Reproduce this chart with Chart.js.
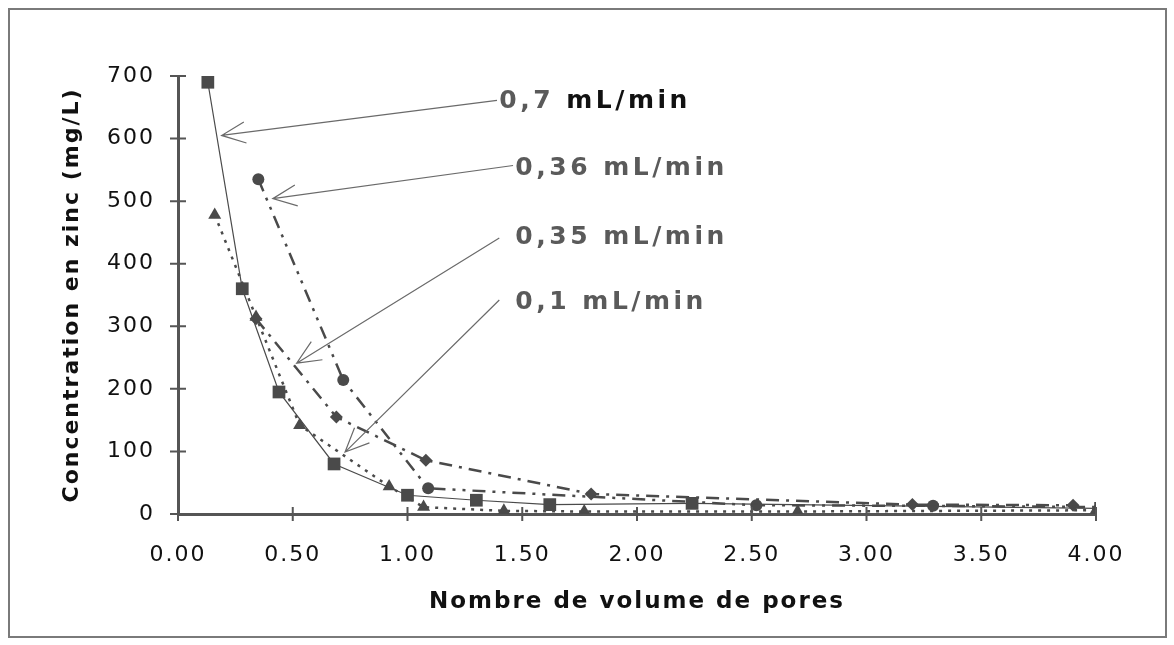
<!DOCTYPE html>
<html>
<head>
<meta charset="utf-8">
<script src="https://cdn.jsdelivr.net/npm/chart.js@4.4.0/dist/chart.umd.min.js"></script>
<style>
  html, body { margin: 0; padding: 0; background: #fff; }
  #wrap { position: relative; width: 1174px; height: 645px; }
  #frame { position: absolute; left: 8px; top: 8px; width: 1155px; height: 626px; border: 2px solid #7a7a7a; pointer-events: none; }
</style>
</head>
<body>
<div id="wrap">
  <canvas id="chart" width="1174" height="645"></canvas>
  <div id="frame"></div>
</div>
<script>
// --- data ---
const seriesNames = ["0,7 mL/min", "0,36 mL/min", "0,35 mL/min", "0,1 mL/min"];

const pores07 = [0.13, 0.28, 0.44, 0.68, 1.00, 1.30, 1.62, 2.24, 4.02];
const zinc07  = [690, 360, 195, 80, 30, 22, 15, 17, 9];

const pores036 = [0.35, 0.72, 1.09, 2.52, 3.29, 4.02];
const zinc036  = [535, 214, 41, 14, 13, 11];

const pores035 = [0.34, 0.69, 1.08, 1.80, 3.20, 3.90];
const zinc035  = [312, 155, 86, 32, 15, 14];

const pores01 = [0.16, 0.34, 0.53, 0.92, 1.07, 1.42, 1.77, 2.70, 4.00];
const zinc01  = [478, 315, 142, 44, 11, 5, 4, 4, 6];

const yTicks = [0, 100, 200, 300, 400, 500, 600, 700];
const xTicks = [0, 0.5, 1, 1.5, 2, 2.5, 3, 3.5, 4];

// callouts: label anchor and arrow tip, in data units
const callouts = [
  { text: "0,7", unit: "mL/min", lx: 1.40, ly: 659, sx: 1.39, sy: 661, tx: 0.19, ty: 605 },
  { text: "0,36", unit: "mL/min", lx: 1.47, ly: 552, sx: 1.46, sy: 557, tx: 0.413, ty: 504 },
  { text: "0,35", unit: "mL/min", lx: 1.47, ly: 442, sx: 1.40, sy: 441, tx: 0.517, ty: 241 },
  { text: "0,1", unit: "mL/min", lx: 1.47, ly: 338, sx: 1.40, sy: 342, tx: 0.728, ty: 99 }
];

const toPoints = (xs, ys) => xs.map((v, i) => ({ x: v, y: ys[i] }));

const ink = "#4a4a4a";
const axisColor = "#555";
const font = "'DejaVu Sans', Verdana, sans-serif";

const decor = {
  id: "decor",
  beforeDraw(chart) {
    chart.ctx.letterSpacing = "2px";
  },
  afterDraw(chart) {
    const { ctx, scales: { x, y } } = chart;
    ctx.save();
    // tick marks crossing the axes
    ctx.strokeStyle = axisColor;
    ctx.lineWidth = 2;
    ctx.beginPath();
    xTicks.forEach(v => {
      const px = x.getPixelForValue(v);
      ctx.moveTo(px, y.bottom - 7);
      ctx.lineTo(px, y.bottom + 7);
    });
    yTicks.forEach(v => {
      const py = y.getPixelForValue(v);
      ctx.moveTo(x.left - 8, py);
      ctx.lineTo(x.left + 8, py);
    });
    ctx.stroke();

    // callout arrows
    ctx.strokeStyle = "#6a6a6a";
    ctx.lineWidth = 1.2;
    callouts.forEach(c => {
      const x0 = x.getPixelForValue(c.sx), y0 = y.getPixelForValue(c.sy);
      const x1 = x.getPixelForValue(c.tx), y1 = y.getPixelForValue(c.ty);
      const a = Math.atan2(y0 - y1, x0 - x1);
      const len = 26, spread = 0.42;
      ctx.beginPath();
      ctx.moveTo(x0, y0);
      ctx.lineTo(x1, y1);
      ctx.moveTo(x1 + len * Math.cos(a - spread), y1 + len * Math.sin(a - spread));
      ctx.lineTo(x1, y1);
      ctx.lineTo(x1 + len * Math.cos(a + spread), y1 + len * Math.sin(a + spread));
      ctx.stroke();
    });

    // callout labels
    ctx.font = "bold 25px " + font;
    ctx.letterSpacing = "3.5px";
    ctx.textBaseline = "middle";
    ctx.textAlign = "left";
    callouts.forEach((c, i) => {
      const px = x.getPixelForValue(c.lx), py = y.getPixelForValue(c.ly);
      ctx.fillStyle = "#5a5a5a";
      const head = c.text + " ";
      ctx.fillText(head, px, py);
      ctx.fillStyle = i === 0 ? "#111" : "#5a5a5a";
      ctx.fillText(c.unit, px + ctx.measureText(head).width, py);
    });
    ctx.restore();
  }
};

const ctx = document.getElementById("chart").getContext("2d");

new Chart(ctx, {
  type: "scatter",
  data: {
    datasets: [
      {
        label: seriesNames[0],
        data: toPoints(pores07, zinc07),
        showLine: true,
        borderColor: ink,
        borderWidth: 1.2,
        pointStyle: "rect",
        pointRadius: 9,
        backgroundColor: ink,
        pointBorderWidth: 0
      },
      {
        label: seriesNames[1],
        data: toPoints(pores036, zinc036),
        showLine: true,
        borderColor: ink,
        borderWidth: 2.5,
        borderDash: [13, 7, 3, 7, 3, 7],
        pointStyle: "circle",
        pointRadius: 6,
        backgroundColor: ink,
        pointBorderWidth: 0
      },
      {
        label: seriesNames[2],
        data: toPoints(pores035, zinc035),
        showLine: true,
        borderColor: ink,
        borderWidth: 2.5,
        borderDash: [13, 7, 3, 7],
        pointStyle: "rectRot",
        pointRadius: 6.5,
        backgroundColor: ink,
        pointBorderWidth: 0
      },
      {
        label: seriesNames[3],
        data: toPoints(pores01, zinc01),
        showLine: true,
        borderColor: ink,
        borderWidth: 2.5,
        borderDash: [3, 6],
        pointStyle: "triangle",
        pointRadius: 7.5,
        backgroundColor: ink,
        pointBorderWidth: 0
      }
    ]
  },
  options: {
    responsive: false,
    animation: false,
    layout: { padding: { top: 76, right: 78, left: 0, bottom: 0 } },
    plugins: {
      legend: { display: false },
      tooltip: { enabled: false }
    },
    scales: {
      x: {
        type: "linear",
        min: 0,
        max: 4,
        afterFit: s => { s.height = 131; },
        afterBuildTicks: s => { s.ticks = xTicks.map(v => ({ value: v })); },
        grid: { display: false, drawTicks: false },
        border: { display: true, color: axisColor, width: 3 },
        ticks: {
          color: "#111",
          padding: 28,
          maxRotation: 0,
          font: { family: font, size: 22 },
          callback: v => v.toFixed(2)
        },
        title: {
          display: true,
          text: "Nombre de volume de pores",
          color: "#111",
          font: { family: font, size: 23, weight: "bold" },
          padding: { top: 0, bottom: 29 }
        }
      },
      y: {
        min: 0,
        max: 700,
        afterFit: s => { s.width = 178; },
        afterBuildTicks: s => { s.ticks = yTicks.map(v => ({ value: v })); },
        grid: { display: false, drawTicks: false },
        border: { display: true, color: axisColor, width: 3 },
        ticks: {
          color: "#111",
          padding: 23,
          font: { family: font, size: 22 }
        },
        title: {
          display: true,
          text: "Concentration en zinc (mg/L)",
          color: "#111",
          font: { family: font, size: 22, weight: "bold" },
          padding: { top: 59, bottom: 0 }
        }
      }
    }
  },
  plugins: [decor]
});
</script>
</body>
</html>
